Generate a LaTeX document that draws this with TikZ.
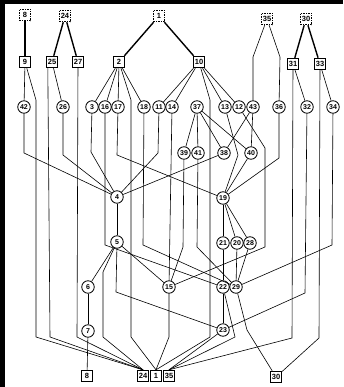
\documentclass[tikz,border=0pt]{standalone}
\usepackage{fontspec}
\setmainfont{Liberation Sans}
\begin{document}
\begin{tikzpicture}[x=1pt,y=-1pt,
  cn/.style={circle,draw,line width=0.8pt,minimum size=12.5pt,inner sep=0pt,font=\fontsize{7}{7}\selectfont\bfseries},
  bx/.style={rectangle,draw,line width=0.9pt,minimum size=11.5pt,inner sep=0.3pt,font=\fontsize{7.5}{7.5}\selectfont\bfseries},
  dbx/.style={bx,dashed,dash pattern=on 1.5pt off 1pt},
  ed/.style={line width=0.6pt},
  thk/.style={line width=1.4pt}]
\useasboundingbox (0,0) rectangle (343,387);
\fill[black] (0,0) rectangle (343,4);
\fill[black] (0,0) rectangle (5,387);
% top dashed boxes
\node[dbx] (t8) at (25,15) {8};
\node[dbx] (t24) at (65,16) {24};
\node[dbx] (t1) at (159,16) {1};
\node[dbx] (t35) at (267,19) {35};
\node[dbx] (t30) at (306,19) {30};
% boxes
\node[bx] (n9) at (25,62) {9};
\node[bx] (n25) at (52,62) {25};
\node[bx] (n27) at (78,62) {27};
\node[bx] (n2) at (119,62) {2};
\node[bx] (n10) at (199,62) {10};
\node[bx] (n31) at (293,64) {31};
\node[bx] (n33) at (320,64) {33};
% row 3
\node[cn] (n42) at (24,107) {42};
\node[cn] (n26) at (63,107) {26};
\node[cn] (n3) at (92,107) {3};
\node[cn] (n16) at (105,107) {16};
\node[cn] (n17) at (118,107) {17};
\node[cn] (n18) at (144,107) {18};
\node[cn] (n11) at (159,107) {11};
\node[cn] (n14) at (172,107) {14};
\node[cn] (n37) at (197,107) {37};
\node[cn] (n13) at (225,107) {13};
\node[cn] (n12) at (239,107) {12};
\node[cn] (n43) at (253,107) {43};
\node[cn] (n36) at (279,107) {36};
\node[cn] (n32) at (307,107) {32};
\node[cn] (n34) at (333,107) {34};
% row 4
\node[cn] (n39) at (184,153) {39};
\node[cn] (n41) at (198,153) {41};
\node[cn] (n38) at (224,153) {38};
\node[cn] (n40) at (251,153) {40};
\node[cn] (n4) at (117,197) {4};
\node[cn] (n19) at (223,198) {19};
\node[cn] (n5) at (117,242) {5};
\node[cn] (n21) at (223,243) {21};
\node[cn] (n20) at (237,243) {20};
\node[cn] (n28) at (250,243) {28};
\node[cn] (n6) at (88,287) {6};
\node[cn] (n15) at (169,287) {15};
\node[cn] (n22) at (223,287) {22};
\node[cn] (n29) at (236,287) {29};
\node[cn] (n7) at (88,331) {7};
\node[cn] (n23) at (223,330) {23};
% bottom boxes
\node[bx] (b8) at (87,376) {8};
\node[bx] (b24) at (143,376) {24};
\node[bx] (b1) at (156,376) {1};
\node[bx] (b35) at (169,376) {35};
\node[bx] (b30) at (276,377) {30};
% thick edges
\draw[thk] (t8) -- (n9);
\draw[thk] (t24) -- (n25);
\draw[thk] (t24) -- (n27);
\draw[thk] (t1) -- (n2);
\draw[thk] (t1) -- (n10);
\draw[thk] (t30) -- (n31);
\draw[thk] (t30) -- (n33);
% thin edges
\begin{scope}[ed]
\draw (t35) -- (253,57) -- (n43);
\draw (t35) -- (280,57) -- (n36);
\draw (n9) -- (n42);
\draw (n9) -- (36,100) -- (36,337) -- (b24.north);
\draw (n25) -- (n26);
\draw (n25.south west) ++(2,0) -- (50,337) -- (b24.north);
\draw (n27) -- (77,337) -- (b24.north);
\draw (n42) -- (24,153) -- (n4);
\draw (n26) -- (63,155) -- (n4);
\draw (n2) -- (n3);
\draw (n2) -- (n16);
\draw (n2) -- (n17);
\draw (n2) -- (n18);
\draw (n2) -- (131,100) -- (131,337) -- (b1.north);
\draw (n3) -- (91,152) -- (n4);
\draw (n16) -- (105,245) -- (n22);
\draw (n17) -- (117,155) -- (n19);
\draw (n18) -- (143,245) -- (n29);
\draw (n10) -- (n11);
\draw (n10) -- (n14);
\draw (n10) -- (n13);
\draw (n10) -- (n12);
\draw (n10) -- (210,100) -- (210,337) -- (b1.north);
\draw (n11) -- (158,153) -- (n4);
\draw (n14) -- (n15);
\draw (n37) -- (n39);
\draw (n37) -- (n41);
\draw (n37) -- (n38);
\draw (n37) -- (n40);
\draw (n13) -- (238,155) -- (n19);
\draw (n12) -- (265,148) -- (265,247) -- (n15);
\draw (n43) -- (n38);
\draw (n43) -- (n40);
\draw (n36) -- (279,158) -- (n19);
\draw (n31) -- (n32);
\draw (n31) -- (292,338) -- (b35.north);
\draw (n32) -- (305,293) -- (n23);
\draw (n33) -- (n34);
\draw (n33) -- (319,338) -- (b30);
\draw (n34) -- (332,245) -- (n29);
\draw (n39) -- (183,247) -- (n15);
\draw (n41) -- (197,247) -- (n29);
\draw (n38) -- (n4);
\draw (n40) -- (n19);
\draw (n4) -- (n5);
\draw (n19) -- (n21);
\draw (n19) -- (n20);
\draw (n19) -- (n28);
\draw (n5) -- (n6);
\draw (n5) -- (n15);
\draw (n5) -- (103,272) -- (103,337) -- (b24.north);
\draw (n5) -- (116,292) -- (n23);
\draw (n21) -- (n22);
\draw (n20) -- (n29);
\draw (n28) -- (n29);
\draw (n6) -- (n7);
\draw (n7) -- (b8);
\draw (n15) -- (169,337) -- (b1.north);
\draw (n22) -- (n23);
\draw (n22) -- (235,337) -- (b35.north);
\draw (n23) -- (b35.north);
\draw (n29) -- (247,330) -- (b30);
\end{scope}
\end{tikzpicture}
\end{document}
